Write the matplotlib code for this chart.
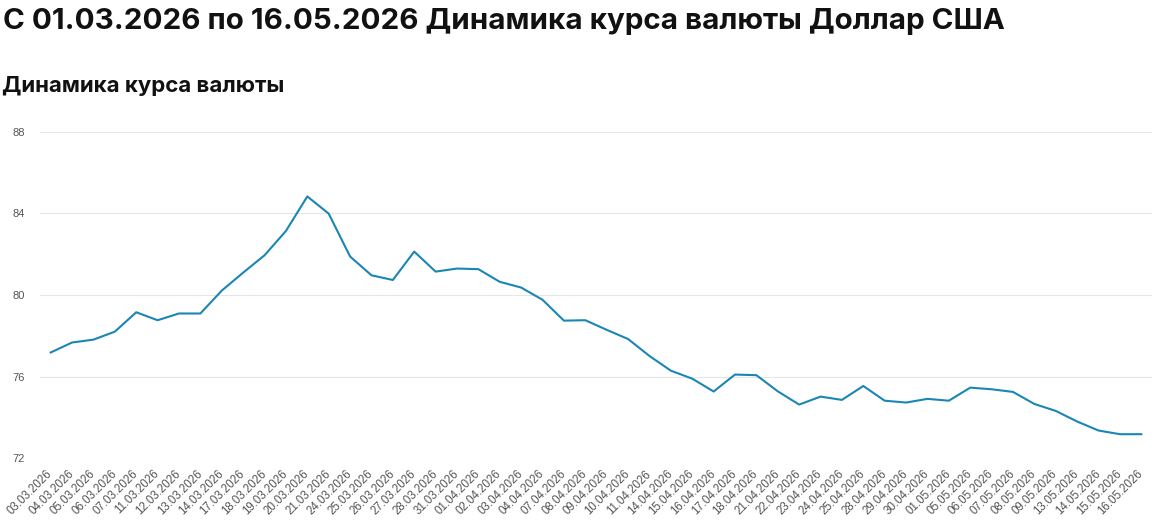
import matplotlib
matplotlib.use('Agg')
import matplotlib.pyplot as plt

# даты и курс доллара
dates = ['03.03.2026', '04.03.2026', '05.03.2026', '06.03.2026', '07.03.2026',
         '11.03.2026', '12.03.2026', '13.03.2026', '14.03.2026', '17.03.2026',
         '18.03.2026', '19.03.2026', '20.03.2026', '21.03.2026', '24.03.2026',
         '25.03.2026', '26.03.2026', '27.03.2026', '28.03.2026', '31.03.2026',
         '01.04.2026', '02.04.2026', '03.04.2026', '04.04.2026', '07.04.2026',
         '08.04.2026', '09.04.2026', '10.04.2026', '11.04.2026', '14.04.2026',
         '15.04.2026', '16.04.2026', '17.04.2026', '18.04.2026', '21.04.2026',
         '22.04.2026', '23.04.2026', '24.04.2026', '25.04.2026', '28.04.2026',
         '29.04.2026', '30.04.2026', '01.05.2026', '05.05.2026', '06.05.2026',
         '07.05.2026', '08.05.2026', '09.05.2026', '13.05.2026', '14.05.2026',
         '15.05.2026', '16.05.2026']

rates = [77.18, 77.67, 77.81, 78.20, 79.15, 78.76, 79.09, 79.09, 80.21, 81.09,
         81.94, 83.13, 84.82, 83.98, 81.88, 80.96, 80.73, 82.12, 81.14, 81.29,
         81.26, 80.64, 80.36, 79.76, 78.74, 78.76, 78.29, 77.84, 77.01, 76.29,
         75.90, 75.27, 76.10, 76.07, 75.28, 74.63, 75.02, 74.86, 75.54, 74.82,
         74.73, 74.91, 74.82, 75.46, 75.38, 75.25, 74.66, 74.32, 73.80, 73.36,
         73.18, 73.18]

y_ticks = [72, 76, 80, 84, 88]

fig = plt.figure(figsize=(11.56, 5.25), dpi=100)
ax = fig.add_axes([40 / 1156, 1 - 458.3 / 525, 1112 / 1156, (458.3 - 131.5) / 525])

x = list(range(len(dates)))
ax.plot(x, rates, color='#1a86b5', linewidth=1.5, solid_joinstyle='round')

ax.set_xlim(-0.5, len(dates) - 0.5)
ax.set_ylim(72, 88)
ax.set_yticks(y_ticks)
ax.set_yticklabels([str(v) for v in y_ticks], family='Liberation Sans',
                   fontsize=8, color='#555555')
ax.set_xticks(x)
ax.set_xticklabels(dates, rotation=45, ha='right', va='center',
                   rotation_mode='anchor', family='Liberation Sans',
                   fontsize=8.3, color='#555555')
ax.tick_params(axis='y', length=0, pad=11)
ax.tick_params(axis='x', length=0, pad=10)

ax.grid(axis='y', color='#e6e6e6', linewidth=0.8)
ax.set_axisbelow(True)
for s in ax.spines.values():
    s.set_visible(False)

fig.text(3 / 1156, 1 - 29 / 525, 'С 01.03.2026 по 16.05.2026 Динамика курса валюты Доллар США',
         family='Inter', weight='bold', fontsize=21.3, color='#111111', va='baseline')
fig.text(2 / 1156, 1 - 92.5 / 525, 'Динамика курса валюты',
         family='Inter', weight='bold', fontsize=16, color='#111111', va='baseline')

fig.savefig('out.png', dpi=100, facecolor='white')
